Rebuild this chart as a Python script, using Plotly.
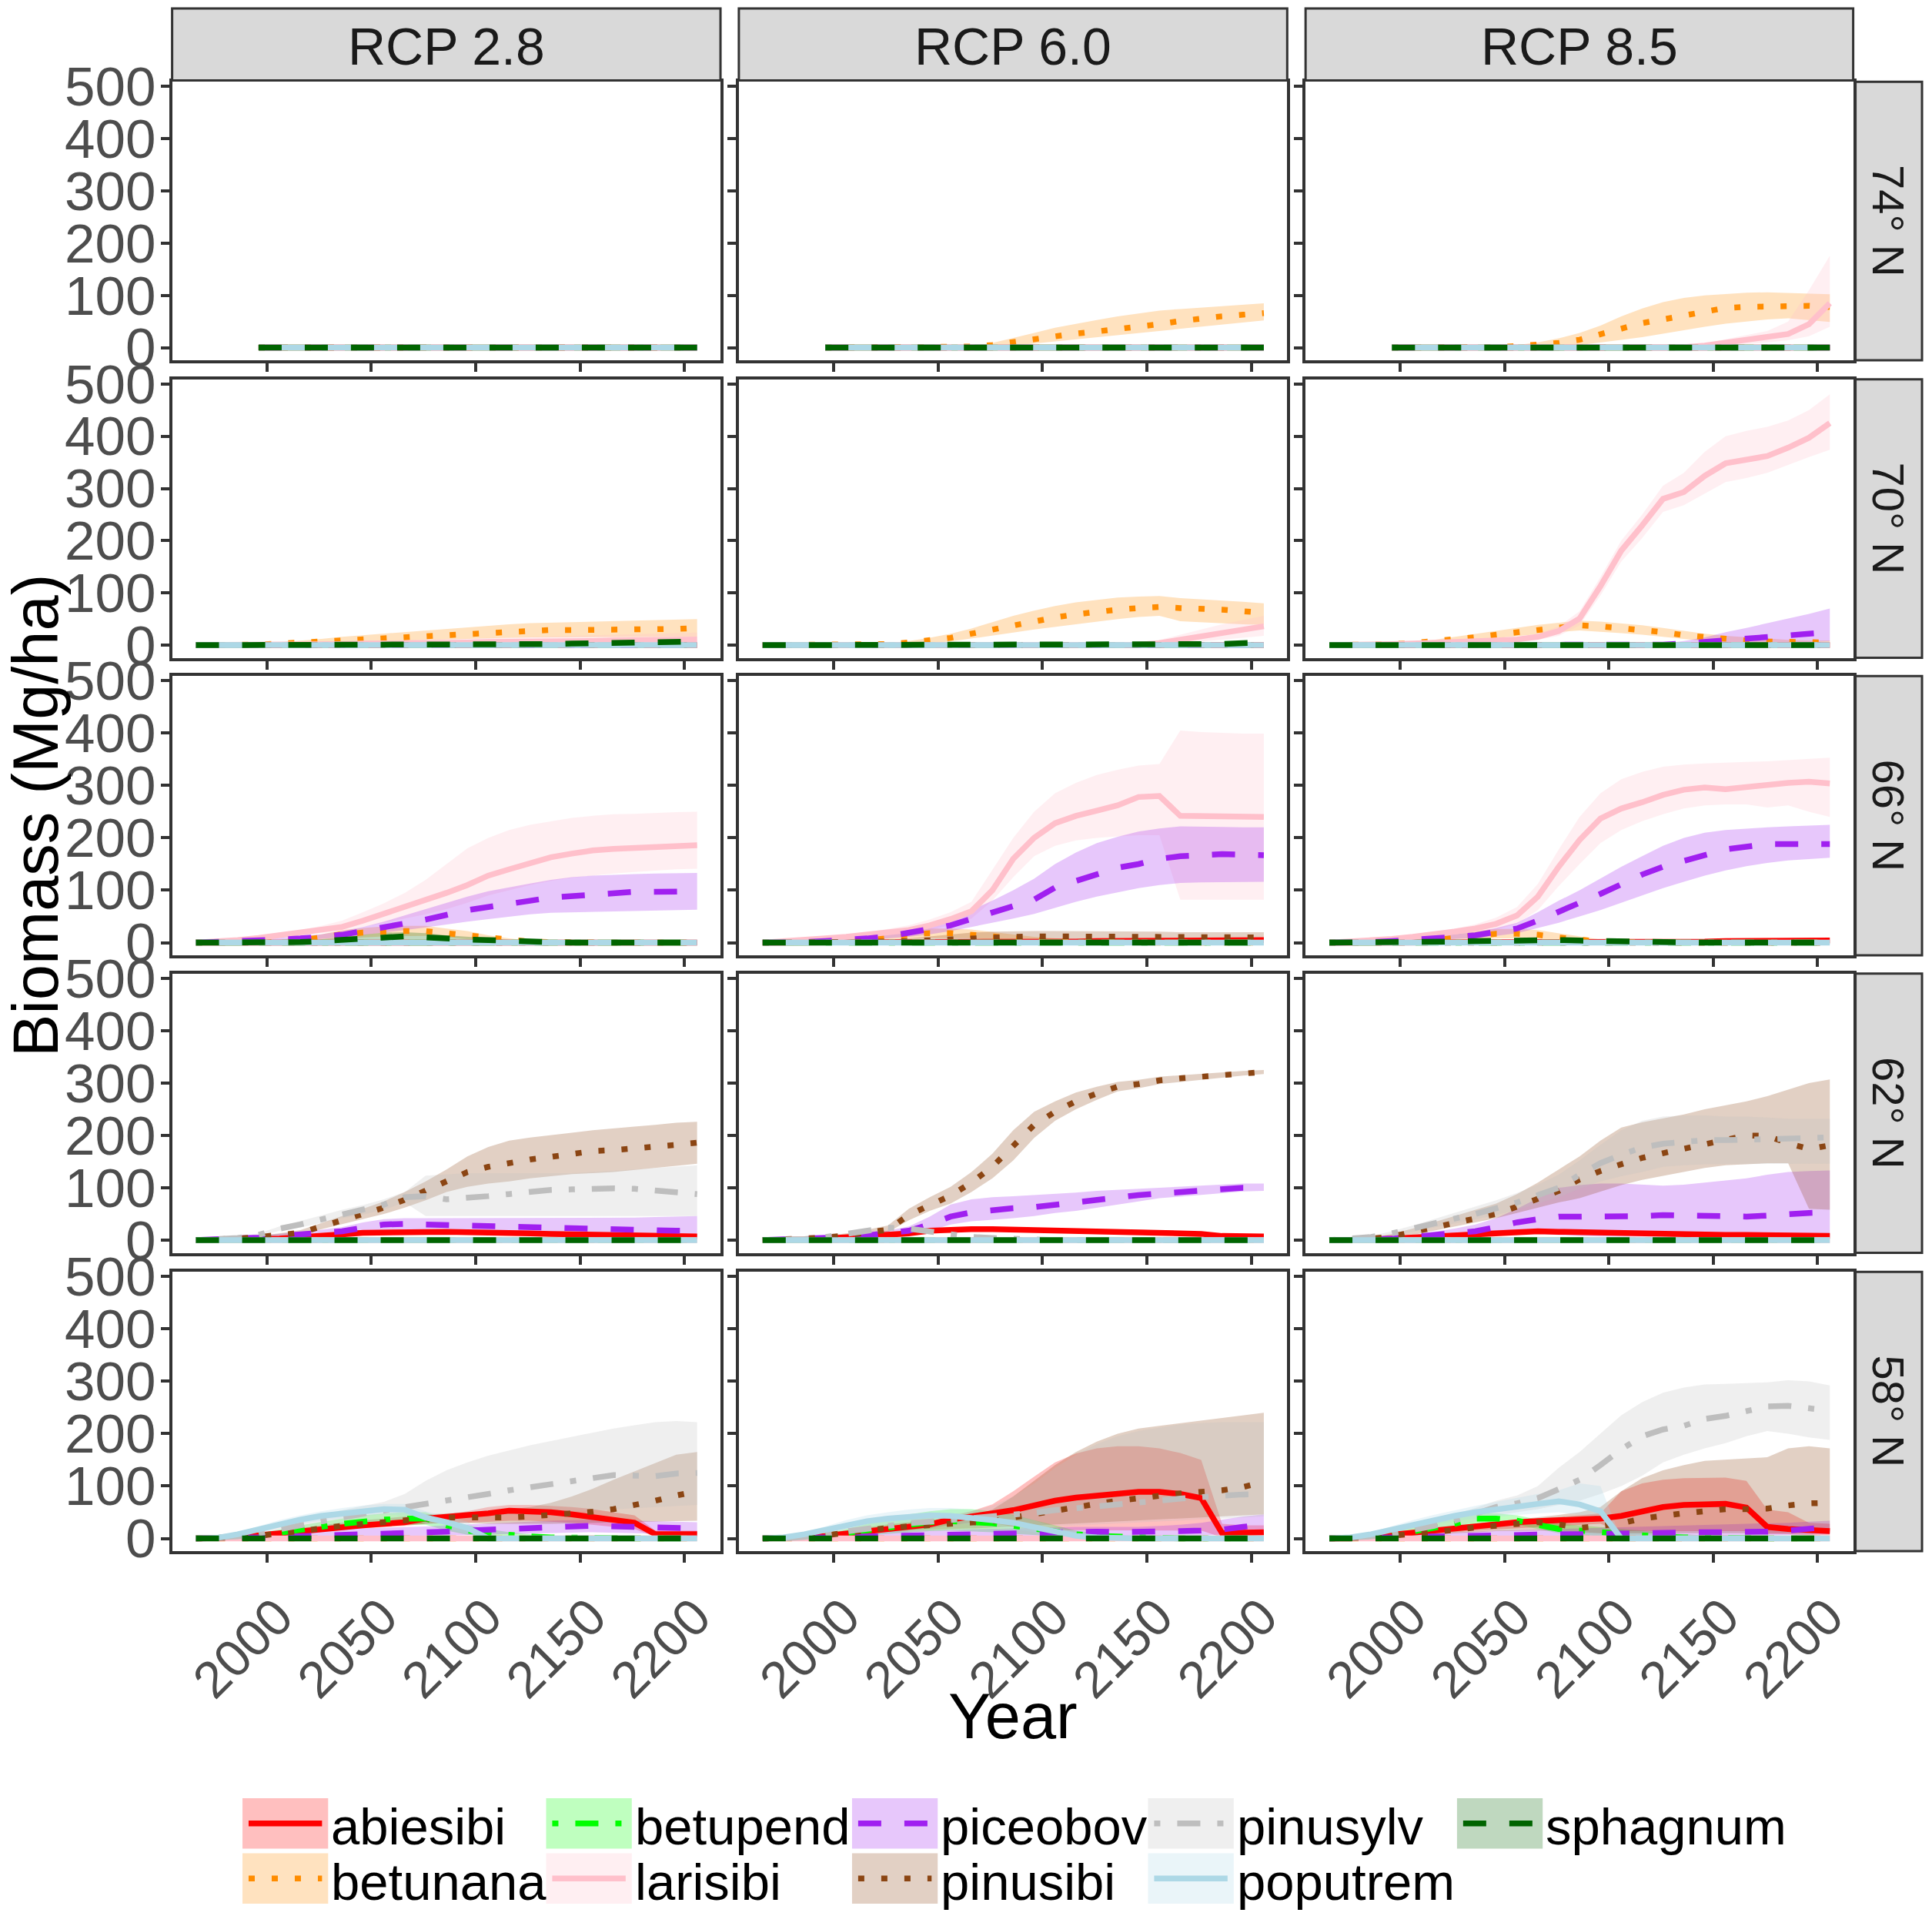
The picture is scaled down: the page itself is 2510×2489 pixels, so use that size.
import plotly.graph_objects as go

# sampled every 10 years; 74N runs only start in the late 1990s
years = [1966, 1976, 1986, 1996, 2006, 2016, 2026, 2036, 2046, 2056, 2066, 2076, 2086,
         2096, 2106, 2116, 2126, 2136, 2146, 2156, 2166, 2176, 2186, 2196, 2206]
years_74 = [1996, 2006, 2016, 2026, 2036, 2046, 2056, 2066, 2076, 2086, 2096,
            2106, 2116, 2126, 2136, 2146, 2156, 2166, 2176, 2186, 2196, 2206]
zero = [0, 0, 0, 0, 0, 0, 0, 0, 0, 0, 0, 0, 0, 0, 0, 0, 0, 0, 0, 0, 0, 0, 0, 0, 0]
zero_74 = [0, 0, 0, 0, 0, 0, 0, 0, 0, 0, 0, 0, 0, 0, 0, 0, 0, 0, 0, 0, 0, 0]

species = ["abiesibi", "betunana", "betupend", "larisibi", "piceobov",
           "pinusibi", "pinusylv", "poputrem", "sphagnum"]
rcps = ["RCP 2.8", "RCP 6.0", "RCP 8.5"]
lats = ["74° N", "70° N", "66° N", "62° N", "58° N"]

# ---- 74 N ----
betunana_74_60 = [0, 0, 0, 0, 0, 1, 1, 2, 5, 11, 17, 22, 27, 31, 35, 40, 45, 51, 56, 60, 63, 66]
betunana_74_60_lo = [0, 0, 0, 0, 0, 0, 0, 0, 1, 4, 8, 12, 16, 20, 24, 28, 31, 35, 39, 43, 48, 52]
betunana_74_60_hi = [0, 0, 0, 0, 0, 1, 2, 3, 9, 18, 28, 38, 46, 53, 60, 66, 71, 74, 77, 79, 82, 85]
betunana_74_85 = [0, 0, 0, 0, 0, 1, 3, 5, 9, 15, 25, 37, 47, 54, 61, 69, 76, 78, 79, 80, 80, 78]
betunana_74_85_lo = [0, 0, 0, 0, 0, 0, 1, 2, 3, 5, 10, 15, 20, 26, 33, 40, 46, 50, 54, 56, 52, 49]
betunana_74_85_hi = [0, 0, 0, 0, 0, 2, 5, 10, 18, 28, 42, 60, 75, 87, 95, 100, 103, 105, 106, 105, 103, 102]
larisibi_74_85 = [0, 0, 0, 0, 0, 0, 0, 0, 0, 0, 0, 0, 0, 0, 1, 4, 9, 14, 20, 26, 45, 85]
larisibi_74_85_lo = [0, 0, 0, 0, 0, 0, 0, 0, 0, 0, 0, 0, 0, 0, 0, 1, 3, 6, 10, 14, 22, 40]
larisibi_74_85_hi = [0, 0, 0, 0, 0, 0, 0, 0, 0, 0, 0, 0, 0, 1, 3, 8, 16, 24, 32, 50, 110, 176]

# ---- 70 N ----
betunana_70_28 = [0, 0, 0, 1, 3, 5, 8, 11, 13, 15, 17, 19, 21, 23, 25, 27, 28, 29, 29, 29, 29, 29, 30, 31, 33]
betunana_70_28_lo = [0, 0, 0, 0, 1, 2, 4, 6, 7, 8, 9, 10, 11, 12, 13, 14, 15, 16, 16, 16, 16, 16, 16, 16, 16]
betunana_70_28_hi = [0, 0, 0, 2, 5, 8, 12, 16, 19, 22, 25, 28, 31, 35, 38, 40, 42, 43, 44, 45, 46, 47, 48, 49, 50]
larisibi_70_28 = [0, 0, 0, 0, 1, 1, 2, 2, 3, 3, 4, 4, 5, 5, 6, 6, 7, 7, 8, 8, 9, 9, 10, 10, 11]
larisibi_70_28_hi = [0, 0, 1, 2, 3, 4, 5, 6, 7, 8, 9, 10, 11, 12, 13, 14, 15, 16, 17, 18, 19, 20, 21, 22, 24]
sphagnum_70_28 = [0, 0, 0, 0, 0, 0, 0, 0, 0, 0, 0, 0, 0, 0, 0, 0, 0, 2, 3, 4, 5, 5, 6, 6, 7]

betunana_70_60 = [0, 0, 0, 0, 0, 1, 2, 5, 9, 14, 22, 30, 38, 46, 53, 59, 64, 68, 71, 73, 71, 70, 68, 65, 62]
betunana_70_60_lo = [0, 0, 0, 0, 0, 0, 1, 2, 4, 7, 12, 18, 24, 30, 36, 40, 45, 50, 54, 56, 46, 44, 42, 40, 39]
betunana_70_60_hi = [0, 0, 0, 0, 0, 2, 4, 8, 14, 22, 32, 44, 56, 66, 75, 82, 87, 91, 93, 94, 90, 88, 86, 83, 80]
larisibi_70_60 = [0, 0, 0, 0, 0, 0, 0, 0, 0, 0, 0, 0, 0, 0, 0, 0, 0, 0, 1, 4, 10, 17, 24, 30, 36]
larisibi_70_60_lo = [0, 0, 0, 0, 0, 0, 0, 0, 0, 0, 0, 0, 0, 0, 0, 0, 0, 0, 0, 1, 3, 6, 10, 14, 18]
larisibi_70_60_hi = [0, 0, 0, 0, 0, 0, 0, 0, 0, 0, 0, 0, 0, 0, 0, 0, 0, 0, 3, 10, 20, 30, 40, 48, 56]
sphagnum_70_60 = [0, 0, 0, 0, 0, 0, 0, 0, 0, 0, 0, 0, 0, 0, 0, 0, 0, 0, 0, 0, 0, 0, 2, 4, 5]

larisibi_70_85 = [0, 0, 1, 2, 3, 4, 6, 7, 9, 11, 16, 27, 51, 113, 181, 229, 280, 293, 324, 348, 356, 362, 378, 397, 425]
larisibi_70_85_lo = [0, 0, 0, 1, 2, 3, 4, 5, 6, 7, 10, 18, 38, 95, 160, 205, 255, 268, 290, 312, 320, 330, 345, 360, 374]
larisibi_70_85_hi = [0, 0, 2, 3, 5, 6, 8, 9, 12, 15, 22, 36, 65, 130, 200, 250, 305, 330, 370, 400, 410, 418, 430, 450, 480]
betunana_70_85 = [0, 0, 1, 2, 4, 7, 11, 15, 20, 25, 30, 34, 38, 36, 33, 29, 25, 19, 15, 11, 9, 7, 6, 5, 5]
betunana_70_85_lo = [0, 0, 0, 1, 2, 4, 6, 9, 13, 17, 21, 25, 28, 26, 23, 20, 17, 12, 8, 5, 4, 3, 2, 2, 2]
betunana_70_85_hi = [0, 0, 2, 4, 6, 10, 16, 21, 27, 33, 39, 43, 47, 45, 42, 38, 33, 27, 22, 18, 15, 12, 10, 9, 9]
piceobov_70_85 = [0, 0, 0, 0, 0, 0, 0, 0, 0, 0, 0, 0, 0, 0, 0, 0, 1, 3, 6, 10, 13, 16, 19, 22, 25]
piceobov_70_85_lo = [0, 0, 0, 0, 0, 0, 0, 0, 0, 0, 0, 0, 0, 0, 0, 0, 0, 0, 1, 2, 3, 4, 5, 6, 7]
piceobov_70_85_hi = [0, 0, 0, 0, 0, 0, 0, 0, 0, 0, 0, 0, 0, 0, 0, 0, 3, 8, 15, 25, 33, 42, 50, 60, 70]

# ---- 66 N ----
larisibi_66_28 = [0, 2, 5, 9, 14, 18, 24, 30, 42, 55, 68, 80, 95, 110, 128, 140, 152, 163, 170, 176, 179, 181, 183, 185, 186]
larisibi_66_28_lo = [0, 1, 3, 6, 10, 13, 18, 22, 30, 38, 46, 54, 64, 76, 90, 100, 110, 118, 124, 128, 132, 135, 138, 140, 141]
larisibi_66_28_hi = [0, 3, 7, 12, 18, 24, 32, 42, 58, 75, 95, 120, 150, 180, 200, 215, 225, 232, 238, 242, 245, 246, 248, 249, 250]
piceobov_66_28 = [0, 1, 2, 4, 6, 8, 11, 15, 22, 29, 37, 44, 53, 62, 68, 73, 80, 86, 89, 92, 95, 97, 97, 98, 98]
piceobov_66_28_lo = [0, 0, 1, 2, 3, 5, 7, 10, 14, 19, 24, 29, 34, 40, 45, 50, 54, 57, 58, 59, 60, 61, 62, 62, 63]
piceobov_66_28_hi = [0, 1, 3, 6, 9, 12, 16, 22, 30, 40, 52, 64, 76, 88, 98, 106, 113, 120, 125, 128, 130, 131, 132, 133, 133]
betunana_66_28 = [0, 0, 0, 1, 3, 5, 10, 16, 19, 21, 22, 22, 18, 14, 8, 4, 2, 1, 0, 0, 0, 0, 0, 0, 0]
betunana_66_28_lo = [0, 0, 0, 0, 1, 2, 4, 8, 10, 12, 13, 13, 10, 7, 3, 1, 0, 0, 0, 0, 0, 0, 0, 0, 0]
betunana_66_28_hi = [0, 0, 0, 2, 5, 9, 16, 24, 28, 31, 32, 32, 27, 22, 14, 8, 4, 2, 1, 0, 0, 0, 0, 0, 0]
sphagnum_66_28 = [0, 0, 0, 0, 0, 1, 3, 5, 8, 11, 12, 10, 7, 6, 5, 3, 2, 1, 0, 0, 0, 0, 0, 0, 0]
sphagnum_66_28_lo = [0, 0, 0, 0, 0, 0, 1, 2, 3, 5, 6, 5, 3, 2, 1, 0, 0, 0, 0, 0, 0, 0, 0, 0, 0]
sphagnum_66_28_hi = [0, 0, 0, 0, 1, 3, 6, 10, 15, 19, 20, 18, 14, 11, 8, 5, 3, 2, 1, 0, 0, 0, 0, 0, 0]

larisibi_66_60 = [0, 2, 4, 8, 11, 15, 19, 24, 33, 45, 60, 100, 160, 200, 228, 242, 252, 262, 278, 280, 242, 241, 241, 240, 240]
larisibi_66_60_lo = [0, 1, 2, 5, 7, 10, 13, 17, 24, 34, 46, 80, 125, 165, 185, 195, 200, 203, 205, 205, 82, 82, 82, 82, 82]
larisibi_66_60_hi = [0, 3, 6, 11, 15, 20, 26, 33, 44, 58, 78, 140, 200, 250, 285, 305, 320, 330, 338, 341, 405, 402, 400, 399, 399]
piceobov_66_60 = [0, 0, 1, 3, 5, 8, 12, 18, 26, 33, 45, 56, 68, 82, 105, 118, 130, 143, 150, 160, 165, 168, 169, 168, 167]
piceobov_66_60_lo = [0, 0, 0, 1, 3, 5, 8, 11, 16, 22, 30, 38, 46, 55, 66, 78, 88, 96, 104, 110, 114, 115, 116, 116, 116]
piceobov_66_60_hi = [0, 1, 2, 5, 8, 12, 18, 26, 36, 46, 62, 80, 100, 122, 150, 172, 190, 202, 212, 218, 222, 222, 221, 220, 220]
betunana_66_60 = [0, 0, 0, 1, 3, 6, 10, 15, 18, 18, 16, 12, 8, 5, 3, 2, 1, 0, 0, 0, 0, 0, 0, 0, 0]
betunana_66_60_lo = [0, 0, 0, 0, 1, 2, 4, 7, 9, 9, 8, 6, 3, 1, 0, 0, 0, 0, 0, 0, 0, 0, 0, 0, 0]
betunana_66_60_hi = [0, 0, 0, 3, 7, 12, 18, 24, 27, 27, 25, 20, 15, 11, 8, 5, 3, 1, 0, 0, 0, 0, 0, 0, 0]
pinusibi_66_60 = [0, 0, 0, 0, 0, 1, 2, 3, 5, 7, 9, 10, 11, 12, 12, 12, 12, 12, 11, 11, 10, 10, 10, 10, 10]
pinusibi_66_60_lo = [0, 0, 0, 0, 0, 0, 0, 1, 2, 3, 4, 4, 4, 5, 5, 5, 5, 5, 4, 4, 4, 4, 4, 4, 4]
pinusibi_66_60_hi = [0, 0, 0, 0, 1, 3, 5, 8, 12, 16, 19, 21, 22, 22, 22, 22, 22, 22, 21, 21, 20, 20, 20, 20, 20]
abiesibi_66_60 = [0, 0, 0, 0, 0, 0, 0, 0, 0, 0, 0, 0, 0, 0, 1, 2, 3, 3, 4, 4, 5, 5, 5, 5, 5]

larisibi_66_85 = [0, 2, 4, 7, 11, 15, 21, 27, 36, 52, 88, 145, 196, 237, 256, 268, 282, 292, 296, 293, 297, 302, 305, 307, 304]
larisibi_66_85_lo = [0, 1, 2, 4, 7, 10, 15, 19, 25, 36, 62, 108, 150, 190, 215, 232, 245, 256, 262, 264, 264, 258, 262, 250, 240]
larisibi_66_85_hi = [0, 3, 6, 10, 15, 20, 27, 35, 48, 68, 112, 178, 240, 285, 312, 326, 336, 340, 342, 344, 345, 346, 348, 350, 353]
piceobov_66_85 = [0, 0, 1, 3, 5, 8, 11, 14, 20, 27, 42, 58, 76, 93, 113, 130, 145, 157, 167, 178, 183, 188, 188, 187, 188]
piceobov_66_85_lo = [0, 0, 0, 1, 3, 5, 7, 9, 13, 18, 28, 38, 50, 62, 76, 90, 104, 116, 128, 138, 146, 152, 157, 160, 162]
piceobov_66_85_hi = [0, 1, 2, 5, 8, 12, 16, 20, 28, 38, 58, 80, 100, 122, 145, 165, 185, 200, 210, 215, 218, 220, 222, 224, 225]
betunana_66_85 = [0, 0, 0, 1, 2, 5, 9, 14, 17, 17, 15, 10, 5, 2, 1, 0, 0, 0, 0, 0, 0, 0, 0, 0, 0]
betunana_66_85_lo = [0, 0, 0, 0, 0, 1, 3, 6, 8, 8, 7, 4, 1, 0, 0, 0, 0, 0, 0, 0, 0, 0, 0, 0, 0]
betunana_66_85_hi = [0, 0, 0, 3, 6, 11, 17, 23, 26, 26, 24, 18, 11, 6, 3, 1, 0, 0, 0, 0, 0, 0, 0, 0, 0]
sphagnum_66_85 = [0, 0, 0, 0, 0, 1, 2, 3, 4, 5, 6, 5, 4, 3, 2, 1, 0, 0, 0, 0, 0, 0, 0, 0, 0]
abiesibi_66_85 = [0, 0, 0, 0, 0, 0, 0, 0, 0, 0, 0, 0, 0, 0, 0, 0, 0, 1, 2, 3, 3, 4, 4, 4, 4]

# ---- 62 N ----
pinusibi_62_28 = [0, 1, 3, 6, 10, 14, 26, 38, 50, 62, 77, 94, 113, 130, 140, 148, 154, 159, 165, 170, 172, 175, 177, 182, 186]
pinusibi_62_28_lo = [0, 1, 2, 5, 8, 11, 20, 30, 40, 50, 62, 76, 92, 102, 108, 112, 118, 122, 126, 128, 130, 134, 138, 142, 146]
pinusibi_62_28_hi = [0, 1, 4, 8, 13, 19, 32, 46, 60, 74, 92, 112, 135, 160, 178, 190, 196, 200, 205, 210, 214, 217, 220, 224, 226]
pinusylv_62_28 = [0, 1, 4, 10, 22, 30, 40, 50, 58, 68, 82, 84, 78, 80, 84, 88, 92, 96, 97, 99, 99, 98, 95, 92, 88]
pinusylv_62_28_lo = [0, 0, 2, 7, 18, 24, 33, 42, 49, 58, 72, 46, 46, 46, 46, 46, 46, 46, 46, 46, 46, 46, 46, 46, 46]
pinusylv_62_28_hi = [0, 2, 6, 13, 26, 36, 47, 58, 67, 78, 92, 123, 126, 128, 128, 128, 128, 128, 128, 130, 132, 135, 138, 141, 143]
piceobov_62_28 = [0, 1, 2, 5, 8, 10, 14, 17, 24, 30, 31, 30, 29, 28, 27, 25, 24, 23, 22, 21, 19, 19, 18, 18, 18]
piceobov_62_28_lo = [0, 0, 1, 2, 4, 6, 9, 11, 15, 19, 19, 18, 17, 16, 14, 13, 12, 11, 10, 9, 9, 8, 8, 8, 8]
piceobov_62_28_hi = [0, 2, 4, 8, 12, 15, 20, 25, 34, 40, 42, 42, 42, 42, 42, 42, 42, 42, 42, 42, 43, 43, 44, 45, 46]
abiesibi_62_28 = [0, 0, 1, 2, 3, 5, 8, 11, 14, 15, 16, 16, 16, 15, 15, 14, 13, 12, 11, 10, 9, 8, 8, 7, 7]
abiesibi_62_28_lo = [0, 0, 0, 0, 1, 2, 4, 7, 10, 11, 12, 12, 12, 11, 11, 10, 9, 8, 7, 6, 5, 4, 4, 3, 3]
abiesibi_62_28_hi = [0, 1, 3, 5, 7, 9, 12, 15, 18, 19, 20, 20, 20, 19, 19, 18, 17, 16, 15, 14, 13, 12, 12, 11, 11]

pinusibi_62_60 = [0, 1, 3, 5, 9, 14, 20, 48, 68, 85, 110, 140, 180, 220, 245, 265, 280, 293, 298, 305, 309, 312, 315, 319, 321]
pinusibi_62_60_lo = [0, 0, 1, 3, 6, 10, 15, 38, 56, 70, 92, 118, 152, 195, 228, 250, 268, 284, 290, 298, 303, 306, 310, 314, 317]
pinusibi_62_60_hi = [0, 2, 5, 8, 13, 20, 28, 60, 82, 102, 130, 165, 210, 245, 265, 282, 293, 302, 306, 312, 315, 318, 320, 323, 325]
piceobov_62_60 = [0, 1, 2, 4, 6, 9, 13, 18, 30, 45, 53, 58, 61, 63, 68, 72, 77, 82, 86, 89, 92, 94, 97, 100, 100]
piceobov_62_60_lo = [0, 0, 1, 2, 3, 5, 8, 11, 18, 30, 36, 39, 42, 46, 52, 56, 62, 68, 74, 80, 84, 86, 90, 93, 94]
piceobov_62_60_hi = [0, 1, 3, 6, 9, 13, 18, 26, 45, 68, 78, 82, 84, 86, 88, 91, 94, 96, 98, 100, 102, 104, 106, 108, 108]
abiesibi_62_60 = [0, 0, 1, 3, 5, 7, 10, 13, 18, 20, 21, 21, 20, 19, 18, 18, 17, 16, 16, 15, 14, 12, 8, 7, 7]
abiesibi_62_60_lo = [0, 0, 0, 1, 2, 3, 6, 9, 14, 16, 17, 17, 16, 15, 14, 14, 13, 12, 12, 11, 10, 8, 4, 3, 3]
abiesibi_62_60_hi = [0, 1, 3, 6, 9, 11, 14, 17, 22, 24, 25, 25, 24, 23, 22, 22, 21, 20, 20, 19, 18, 16, 12, 11, 11]
pinusylv_62_60 = [0, 0, 2, 6, 12, 20, 24, 22, 16, 10, 6, 4, 2, 1, 0, 0, 0, 0, 0, 0, 0, 0, 0, 0, 0]

pinusylv_62_85 = [0, 2, 6, 13, 23, 32, 41, 50, 60, 72, 86, 100, 125, 147, 163, 177, 184, 188, 191, 191, 192, 195, 196, 196, 196]
pinusylv_62_85_lo = [0, 1, 3, 8, 16, 24, 32, 40, 48, 58, 70, 82, 98, 112, 122, 130, 140, 143, 145, 146, 146, 146, 146, 146, 146]
pinusylv_62_85_hi = [0, 3, 8, 17, 28, 40, 52, 64, 76, 90, 106, 125, 152, 182, 210, 228, 236, 238, 238, 236, 236, 234, 232, 232, 232]
pinusibi_62_85 = [0, 1, 3, 7, 16, 25, 34, 42, 50, 64, 80, 94, 116, 132, 145, 157, 166, 174, 182, 192, 200, 199, 185, 174, 181]
pinusibi_62_85_lo = [0, 0, 2, 5, 10, 18, 26, 34, 42, 52, 62, 72, 80, 92, 105, 115, 123, 130, 138, 143, 145, 147, 147, 60, 58]
pinusibi_62_85_hi = [0, 1, 5, 12, 22, 34, 46, 58, 70, 88, 110, 135, 160, 190, 215, 225, 232, 240, 250, 258, 265, 275, 287, 300, 307]
piceobov_62_85 = [0, 0, 1, 3, 6, 10, 13, 17, 25, 34, 40, 45, 45, 45, 45, 46, 48, 47, 45, 45, 45, 47, 50, 52, 53]
piceobov_62_85_lo = [0, 0, 0, 1, 2, 4, 6, 8, 10, 12, 12, 10, 8, 7, 6, 6, 6, 6, 6, 6, 6, 6, 6, 6, 6]
piceobov_62_85_hi = [0, 1, 3, 6, 10, 16, 22, 30, 42, 60, 80, 100, 105, 108, 108, 106, 104, 106, 110, 113, 118, 125, 130, 132, 133]
abiesibi_62_85 = [0, 0, 1, 3, 5, 8, 11, 13, 15, 17, 17, 16, 15, 14, 14, 13, 12, 12, 11, 10, 10, 9, 9, 8, 8]
abiesibi_62_85_lo = [0, 0, 0, 1, 2, 4, 7, 9, 11, 13, 13, 12, 11, 10, 10, 9, 8, 8, 7, 6, 6, 5, 5, 4, 4]
abiesibi_62_85_hi = [0, 1, 3, 6, 9, 12, 15, 17, 19, 21, 21, 20, 19, 18, 18, 17, 16, 16, 15, 14, 14, 13, 13, 12, 12]

# ---- 58 N ----
poputrem_58_28 = [0, 1, 8, 17, 28, 36, 43, 48, 53, 56, 55, 40, 31, 20, 0, 0, 0, 0, 0, 0, 0, 0, 0, 0, 0]
poputrem_58_28_lo = [0, 0, 4, 11, 21, 28, 34, 38, 43, 46, 44, 28, 20, 8, 0, 0, 0, 0, 0, 0, 0, 0, 0, 0, 0]
poputrem_58_28_hi = [0, 3, 12, 23, 35, 44, 52, 58, 63, 66, 66, 52, 42, 32, 0, 0, 0, 0, 0, 0, 0, 0, 0, 0, 0]
pinusylv_58_28 = [0, 1, 4, 10, 18, 26, 33, 40, 47, 53, 60, 67, 73, 77, 85, 92, 98, 104, 110, 116, 121, 120, 119, 124, 125]
pinusylv_58_28_lo = [0, 0, 1, 4, 9, 15, 20, 24, 28, 32, 35, 38, 40, 42, 44, 46, 48, 50, 52, 54, 56, 58, 60, 62, 64]
pinusylv_58_28_hi = [0, 2, 8, 16, 26, 36, 45, 54, 62, 70, 85, 110, 130, 145, 158, 168, 178, 186, 194, 202, 210, 216, 222, 224, 222]
pinusibi_58_28 = [0, 0, 2, 5, 9, 14, 19, 24, 28, 31, 34, 38, 40, 40, 39, 40, 42, 45, 47, 51, 56, 63, 72, 82, 90]
pinusibi_58_28_lo = [0, 0, 1, 2, 5, 9, 13, 18, 21, 24, 26, 28, 30, 30, 28, 28, 28, 28, 28, 29, 30, 31, 32, 33, 34]
pinusibi_58_28_hi = [0, 0, 3, 8, 13, 19, 25, 30, 35, 38, 42, 46, 48, 50, 52, 55, 60, 68, 80, 95, 112, 128, 145, 160, 165]
abiesibi_58_28 = [0, 0, 2, 6, 10, 14, 19, 22, 25, 28, 31, 38, 41, 43, 48, 53, 52, 50, 46, 40, 35, 30, 8, 8, 8]
abiesibi_58_28_lo = [0, 0, 1, 3, 6, 10, 14, 17, 19, 22, 24, 28, 30, 30, 32, 34, 34, 32, 30, 26, 22, 18, 3, 2, 2]
abiesibi_58_28_hi = [0, 0, 3, 8, 13, 18, 23, 27, 30, 33, 36, 42, 46, 52, 60, 64, 64, 62, 60, 56, 50, 44, 15, 15, 15]
betupend_58_28 = [0, 0, 2, 5, 10, 16, 22, 28, 33, 36, 38, 38, 25, 15, 10, 6, 4, 2, 1, 0, 0, 0, 0, 0, 0]
betupend_58_28_lo = [0, 0, 0, 2, 5, 9, 14, 19, 23, 25, 26, 26, 15, 7, 4, 2, 1, 0, 0, 0, 0, 0, 0, 0, 0]
betupend_58_28_hi = [0, 0, 4, 10, 17, 25, 32, 38, 44, 48, 50, 50, 36, 25, 18, 12, 8, 5, 3, 1, 0, 0, 0, 0, 0]
piceobov_58_28 = [0, 0, 1, 2, 3, 4, 5, 6, 7, 8, 9, 11, 13, 15, 17, 19, 21, 22, 23, 24, 23, 22, 20, 19, 19]
piceobov_58_28_lo = [0, 0, 0, 0, 0, 0, 0, 1, 2, 2, 3, 4, 5, 6, 7, 8, 9, 10, 11, 12, 11, 10, 9, 8, 8]
piceobov_58_28_hi = [0, 1, 4, 8, 12, 15, 17, 18, 19, 20, 21, 23, 25, 27, 29, 31, 33, 34, 35, 36, 35, 34, 32, 31, 31]

poputrem_58_60 = [0, 2, 8, 16, 26, 33, 38, 42, 44, 43, 40, 35, 30, 22, 12, 5, 2, 0, 0, 0, 0, 0, 0, 0, 0]
poputrem_58_60_lo = [0, 1, 4, 10, 18, 24, 28, 31, 32, 30, 27, 22, 18, 12, 5, 1, 0, 0, 0, 0, 0, 0, 0, 0, 0]
poputrem_58_60_hi = [0, 4, 13, 23, 35, 44, 50, 55, 58, 58, 55, 50, 44, 35, 22, 12, 5, 1, 0, 0, 0, 0, 0, 0, 0]
pinusylv_58_60 = [0, 0, 3, 8, 14, 20, 25, 29, 32, 35, 38, 41, 44, 49, 54, 58, 62, 66, 70, 73, 76, 79, 82, 84, 85]
pinusylv_58_60_lo = [0, 0, 1, 3, 6, 9, 12, 14, 15, 16, 17, 18, 19, 20, 22, 24, 26, 28, 30, 32, 34, 36, 38, 40, 42]
pinusylv_58_60_hi = [0, 0, 5, 12, 20, 28, 34, 38, 42, 46, 52, 62, 80, 105, 135, 160, 180, 195, 205, 212, 218, 220, 222, 222, 222]
pinusibi_58_60 = [0, 0, 2, 6, 11, 16, 20, 23, 25, 27, 29, 33, 40, 47, 54, 60, 66, 72, 77, 82, 86, 89, 92, 98, 108]
pinusibi_58_60_lo = [0, 0, 1, 3, 6, 10, 13, 15, 17, 18, 19, 20, 22, 24, 26, 28, 30, 32, 34, 36, 38, 40, 42, 44, 46]
pinusibi_58_60_hi = [0, 0, 4, 10, 16, 22, 27, 31, 34, 37, 42, 55, 80, 110, 140, 165, 185, 200, 210, 215, 220, 226, 230, 235, 240]
abiesibi_58_60 = [0, 0, 2, 5, 9, 14, 18, 22, 27, 36, 43, 48, 54, 63, 72, 78, 82, 87, 89, 89, 85, 77, 10, 11, 12]
abiesibi_58_60_lo = [0, 0, 1, 3, 6, 10, 13, 16, 19, 26, 30, 30, 22, 18, 16, 15, 15, 15, 15, 15, 15, 15, 2, 2, 2]
abiesibi_58_60_hi = [0, 0, 3, 7, 12, 17, 22, 26, 31, 42, 52, 65, 90, 118, 145, 162, 172, 176, 176, 172, 163, 150, 28, 25, 25]
betupend_58_60 = [0, 0, 2, 5, 10, 16, 22, 27, 31, 33, 32, 29, 24, 18, 12, 8, 5, 3, 2, 1, 0, 0, 0, 0, 0]
betupend_58_60_lo = [0, 0, 0, 1, 3, 6, 9, 12, 14, 15, 14, 12, 9, 6, 4, 2, 1, 0, 0, 0, 0, 0, 0, 0, 0]
betupend_58_60_hi = [0, 0, 4, 10, 18, 28, 38, 46, 52, 56, 56, 52, 45, 35, 25, 15, 10, 6, 4, 2, 1, 0, 0, 0, 0]
piceobov_58_60 = [0, 0, 1, 2, 3, 4, 5, 6, 7, 8, 9, 10, 11, 12, 12, 13, 13, 12, 12, 13, 14, 15, 17, 22, 27]
piceobov_58_60_lo = [0, 0, 0, 0, 0, 0, 1, 1, 2, 2, 3, 3, 4, 4, 4, 5, 5, 5, 5, 5, 6, 6, 7, 9, 12]
piceobov_58_60_hi = [0, 1, 4, 7, 10, 12, 14, 15, 16, 17, 18, 19, 20, 21, 21, 22, 22, 22, 22, 24, 26, 30, 36, 42, 46]

pinusylv_58_85 = [0, 1, 4, 9, 16, 24, 34, 46, 60, 67, 77, 94, 112, 140, 170, 195, 208, 215, 228, 234, 242, 252, 253, 249, 244]
pinusylv_58_85_lo = [0, 0, 1, 4, 8, 14, 22, 32, 44, 50, 56, 64, 72, 85, 100, 120, 145, 160, 172, 182, 195, 205, 200, 193, 188]
pinusylv_58_85_hi = [0, 2, 7, 14, 24, 34, 46, 58, 72, 82, 100, 135, 165, 200, 235, 260, 278, 288, 294, 295, 296, 298, 302, 300, 292]
pinusibi_58_85 = [0, 0, 2, 5, 8, 12, 16, 21, 25, 28, 31, 27, 20, 24, 29, 38, 44, 48, 52, 56, 56, 57, 63, 67, 68]
pinusibi_58_85_lo = [0, 0, 1, 3, 5, 8, 10, 12, 14, 15, 15, 15, 12, 10, 10, 10, 10, 10, 10, 10, 10, 10, 10, 10, 10]
pinusibi_58_85_hi = [0, 0, 3, 8, 13, 18, 23, 28, 32, 36, 40, 45, 50, 60, 90, 115, 130, 140, 148, 150, 152, 155, 172, 176, 172]
abiesibi_58_85 = [0, 0, 3, 7, 11, 16, 20, 24, 28, 31, 33, 34, 36, 38, 43, 51, 60, 64, 66, 66, 59, 22, 18, 15, 14]
abiesibi_58_85_lo = [0, 0, 1, 3, 6, 9, 12, 15, 18, 20, 22, 24, 26, 28, 14, 14, 14, 14, 14, 14, 14, 8, 8, 6, 6]
abiesibi_58_85_hi = [0, 0, 4, 9, 14, 19, 24, 28, 32, 35, 38, 40, 44, 48, 90, 105, 112, 115, 116, 116, 110, 55, 50, 30, 28]
poputrem_58_85 = [0, 2, 8, 17, 27, 35, 43, 50, 56, 62, 66, 71, 65, 52, 0, 0, 0, 0, 0, 0, 0, 0, 0, 0, 0]
poputrem_58_85_lo = [0, 1, 5, 12, 20, 27, 33, 38, 42, 45, 48, 50, 45, 40, 0, 0, 0, 0, 0, 0, 0, 0, 0, 0, 0]
poputrem_58_85_hi = [0, 3, 12, 24, 35, 45, 54, 62, 70, 78, 85, 92, 105, 100, 0, 0, 0, 0, 0, 0, 0, 0, 0, 0, 0]
betupend_58_85 = [0, 0, 2, 6, 12, 20, 28, 38, 38, 34, 26, 18, 15, 12, 8, 5, 3, 2, 1, 0, 0, 0, 0, 0, 0]
betupend_58_85_lo = [0, 0, 0, 1, 4, 10, 18, 28, 29, 26, 18, 10, 7, 4, 1, 0, 0, 0, 0, 0, 0, 0, 0, 0, 0]
betupend_58_85_hi = [0, 0, 5, 14, 22, 30, 38, 48, 48, 44, 36, 28, 25, 22, 18, 15, 11, 8, 5, 2, 0, 0, 0, 0, 0]
piceobov_58_85 = [0, 0, 1, 2, 3, 4, 5, 6, 7, 7, 7, 8, 8, 9, 10, 11, 11, 11, 12, 12, 12, 13, 15, 19, 22]
piceobov_58_85_lo = [0, 0, 0, 0, 0, 0, 1, 1, 2, 2, 2, 3, 3, 3, 4, 4, 4, 4, 5, 5, 5, 5, 6, 7, 8]
piceobov_58_85_hi = [0, 1, 3, 6, 8, 10, 12, 14, 15, 16, 17, 18, 19, 20, 21, 22, 23, 24, 25, 26, 27, 28, 30, 32, 34]

# (mean, lower, upper) per panel; species not listed stay at zero
panels = {
    ("74° N", "RCP 2.8"): {},
    ("74° N", "RCP 6.0"): {
        "betunana": (betunana_74_60, betunana_74_60_lo, betunana_74_60_hi)},
    ("74° N", "RCP 8.5"): {
        "betunana": (betunana_74_85, betunana_74_85_lo, betunana_74_85_hi),
        "larisibi": (larisibi_74_85, larisibi_74_85_lo, larisibi_74_85_hi)},
    ("70° N", "RCP 2.8"): {
        "betunana": (betunana_70_28, betunana_70_28_lo, betunana_70_28_hi),
        "larisibi": (larisibi_70_28, zero, larisibi_70_28_hi),
        "sphagnum": (sphagnum_70_28, None, None)},
    ("70° N", "RCP 6.0"): {
        "betunana": (betunana_70_60, betunana_70_60_lo, betunana_70_60_hi),
        "larisibi": (larisibi_70_60, larisibi_70_60_lo, larisibi_70_60_hi),
        "sphagnum": (sphagnum_70_60, None, None)},
    ("70° N", "RCP 8.5"): {
        "betunana": (betunana_70_85, betunana_70_85_lo, betunana_70_85_hi),
        "larisibi": (larisibi_70_85, larisibi_70_85_lo, larisibi_70_85_hi),
        "piceobov": (piceobov_70_85, piceobov_70_85_lo, piceobov_70_85_hi)},
    ("66° N", "RCP 2.8"): {
        "betunana": (betunana_66_28, betunana_66_28_lo, betunana_66_28_hi),
        "larisibi": (larisibi_66_28, larisibi_66_28_lo, larisibi_66_28_hi),
        "piceobov": (piceobov_66_28, piceobov_66_28_lo, piceobov_66_28_hi),
        "sphagnum": (sphagnum_66_28, sphagnum_66_28_lo, sphagnum_66_28_hi)},
    ("66° N", "RCP 6.0"): {
        "abiesibi": (abiesibi_66_60, None, None),
        "betunana": (betunana_66_60, betunana_66_60_lo, betunana_66_60_hi),
        "larisibi": (larisibi_66_60, larisibi_66_60_lo, larisibi_66_60_hi),
        "piceobov": (piceobov_66_60, piceobov_66_60_lo, piceobov_66_60_hi),
        "pinusibi": (pinusibi_66_60, pinusibi_66_60_lo, pinusibi_66_60_hi)},
    ("66° N", "RCP 8.5"): {
        "abiesibi": (abiesibi_66_85, None, None),
        "betunana": (betunana_66_85, betunana_66_85_lo, betunana_66_85_hi),
        "larisibi": (larisibi_66_85, larisibi_66_85_lo, larisibi_66_85_hi),
        "piceobov": (piceobov_66_85, piceobov_66_85_lo, piceobov_66_85_hi),
        "sphagnum": (sphagnum_66_85, None, None)},
    ("62° N", "RCP 2.8"): {
        "abiesibi": (abiesibi_62_28, abiesibi_62_28_lo, abiesibi_62_28_hi),
        "piceobov": (piceobov_62_28, piceobov_62_28_lo, piceobov_62_28_hi),
        "pinusibi": (pinusibi_62_28, pinusibi_62_28_lo, pinusibi_62_28_hi),
        "pinusylv": (pinusylv_62_28, pinusylv_62_28_lo, pinusylv_62_28_hi)},
    ("62° N", "RCP 6.0"): {
        "abiesibi": (abiesibi_62_60, abiesibi_62_60_lo, abiesibi_62_60_hi),
        "piceobov": (piceobov_62_60, piceobov_62_60_lo, piceobov_62_60_hi),
        "pinusibi": (pinusibi_62_60, pinusibi_62_60_lo, pinusibi_62_60_hi),
        "pinusylv": (pinusylv_62_60, None, None)},
    ("62° N", "RCP 8.5"): {
        "abiesibi": (abiesibi_62_85, abiesibi_62_85_lo, abiesibi_62_85_hi),
        "piceobov": (piceobov_62_85, piceobov_62_85_lo, piceobov_62_85_hi),
        "pinusibi": (pinusibi_62_85, pinusibi_62_85_lo, pinusibi_62_85_hi),
        "pinusylv": (pinusylv_62_85, pinusylv_62_85_lo, pinusylv_62_85_hi)},
    ("58° N", "RCP 2.8"): {
        "abiesibi": (abiesibi_58_28, abiesibi_58_28_lo, abiesibi_58_28_hi),
        "betupend": (betupend_58_28, betupend_58_28_lo, betupend_58_28_hi),
        "piceobov": (piceobov_58_28, piceobov_58_28_lo, piceobov_58_28_hi),
        "pinusibi": (pinusibi_58_28, pinusibi_58_28_lo, pinusibi_58_28_hi),
        "pinusylv": (pinusylv_58_28, pinusylv_58_28_lo, pinusylv_58_28_hi),
        "poputrem": (poputrem_58_28, poputrem_58_28_lo, poputrem_58_28_hi)},
    ("58° N", "RCP 6.0"): {
        "abiesibi": (abiesibi_58_60, abiesibi_58_60_lo, abiesibi_58_60_hi),
        "betupend": (betupend_58_60, betupend_58_60_lo, betupend_58_60_hi),
        "piceobov": (piceobov_58_60, piceobov_58_60_lo, piceobov_58_60_hi),
        "pinusibi": (pinusibi_58_60, pinusibi_58_60_lo, pinusibi_58_60_hi),
        "pinusylv": (pinusylv_58_60, pinusylv_58_60_lo, pinusylv_58_60_hi),
        "poputrem": (poputrem_58_60, poputrem_58_60_lo, poputrem_58_60_hi)},
    ("58° N", "RCP 8.5"): {
        "abiesibi": (abiesibi_58_85, abiesibi_58_85_lo, abiesibi_58_85_hi),
        "betupend": (betupend_58_85, betupend_58_85_lo, betupend_58_85_hi),
        "piceobov": (piceobov_58_85, piceobov_58_85_lo, piceobov_58_85_hi),
        "pinusibi": (pinusibi_58_85, pinusibi_58_85_lo, pinusibi_58_85_hi),
        "pinusylv": (pinusylv_58_85, pinusylv_58_85_lo, pinusylv_58_85_hi),
        "poputrem": (poputrem_58_85, poputrem_58_85_lo, poputrem_58_85_hi)},
}

colors = {
    "abiesibi": "#FF0000", "betunana": "#FF8C00", "betupend": "#00FF00",
    "larisibi": "#FFC0CB", "piceobov": "#A020F0", "pinusibi": "#8B4513",
    "pinusylv": "#BEBEBE", "poputrem": "#ADD8E6", "sphagnum": "#006400",
}
dashes = {
    "abiesibi": "solid", "betunana": "8px,22px", "betupend": "8px,22px,30px,22px",
    "larisibi": "solid", "piceobov": "30px,30px", "pinusibi": "8px,22px",
    "pinusylv": "8px,22px,30px,22px", "poputrem": "solid", "sphagnum": "30px,30px",
}


def fade(hex_color, a=0.25):
    h = hex_color.lstrip("#")
    return f"rgba({int(h[0:2], 16)},{int(h[2:4], 16)},{int(h[4:6], 16)},{a})"


# layout measured on a 2510 x 2489 canvas
W, H = 2510, 2489
FONT = "Liberation Sans, Arial, sans-serif"
col_px = [(217, 934), (958, 1675), (1699, 2415)]
row_px = [(99, 463), (488, 852), (876, 1241), (1265, 1630), (1655, 2020)]


def fx(p):
    return p / W


def fy(p):
    return 1 - p / H


def label(text, x, y, size, color="black", angle=0, xanchor="center"):
    return dict(text=text, xref="paper", yref="paper", x=x, y=y, showarrow=False,
                xanchor=xanchor, yanchor="middle", textangle=angle,
                font=dict(family=FONT, size=size, color=color))


fig = go.Figure()
shapes = []
annotations = []

for r, lat in enumerate(lats):
    for c, rcp in enumerate(rcps):
        n = r * 3 + c + 1
        xa = "x" if n == 1 else f"x{n}"
        ya = "y" if n == 1 else f"y{n}"
        data = panels[(lat, rcp)]
        xs = years_74 if lat == "74° N" else years
        base = zero_74 if lat == "74° N" else zero

        # ribbons first, then lines (same order as the legend factor)
        for sp in species:
            if sp in data and data[sp][1] is not None:
                mean, lo, hi = data[sp]
                fig.add_trace(go.Scatter(
                    x=xs + xs[::-1], y=hi + lo[::-1], fill="toself",
                    fillcolor=fade(colors[sp]), line=dict(width=0), mode="lines",
                    hoverinfo="skip", showlegend=False, xaxis=xa, yaxis=ya))
        for sp in species:
            mean = data[sp][0] if sp in data else base
            fig.add_trace(go.Scatter(
                x=xs, y=mean, mode="lines", name=sp, showlegend=False,
                line=dict(color=colors[sp], width=7.5, dash=dashes[sp]),
                xaxis=xa, yaxis=ya))

        x0, x1 = col_px[c]
        y0, y1 = row_px[r]
        axis_common = dict(
            showgrid=False, zeroline=False, showline=True, mirror=True,
            linecolor="#333333", linewidth=4, ticks="outside", ticklen=11,
            tickwidth=4, tickcolor="#333333", automargin=False,
        )
        fig.update_layout(**{
            ("xaxis" if n == 1 else f"xaxis{n}"): dict(
                axis_common, domain=[fx(x0), fx(x1)], anchor=ya,
                range=[1954.6, 2217.2], tickvals=[2000, 2050, 2100, 2150, 2200],
                showticklabels=(r == 4), tickangle=-45,
                ticklabelshift=14, ticklabelstandoff=4,
                tickfont=dict(family=FONT, size=67, color="#4D4D4D")),
            ("yaxis" if n == 1 else f"yaxis{n}"): dict(
                axis_common, domain=[fy(y1), fy(y0)], anchor=xa,
                range=[-24.2, 508.7], tickvals=[0, 100, 200, 300, 400, 500],
                showticklabels=(c == 0), ticklabelstandoff=-8,
                tickfont=dict(family=FONT, size=71, color="#4D4D4D")),
        })

# facet strips
for c, rcp in enumerate(rcps):
    x0, x1 = col_px[c]
    shapes.append(dict(type="rect", xref="paper", yref="paper",
                       x0=fx(x0), x1=fx(x1), y0=fy(97), y1=fy(3),
                       fillcolor="#D9D9D9", line=dict(color="#333333", width=3)))
    annotations.append(label(rcp, fx((x0 + x1) / 2), fy(52), 68, "#1A1A1A"))
for r, lat in enumerate(lats):
    y0, y1 = row_px[r]
    shapes.append(dict(type="rect", xref="paper", yref="paper",
                       x0=fx(2418), x1=fx(2505), y0=fy(y1), y1=fy(y0),
                       fillcolor="#D9D9D9", line=dict(color="#333333", width=3)))
    annotations.append(label(lat, fx(2461), fy((y0 + y1) / 2), 58, "#1A1A1A", angle=90))

# axis titles
annotations.append(label("Year", fx(1316), fy(2236), 83))
annotations.append(label("Biomass (Mg/ha)", fx(38), fy(1058), 83, angle=-90))

# legend, laid out like ggplot's 2-row key
legend_pos = {
    "abiesibi": (309, 2376), "betupend": (706, 2376), "piceobov": (1106, 2376),
    "pinusylv": (1493, 2376), "sphagnum": (1897, 2376),
    "betunana": (309, 2448), "larisibi": (706, 2448), "pinusibi": (1106, 2448),
    "poputrem": (1493, 2448),
}
for sp in species:
    lx, ly = legend_pos[sp]
    shapes.append(dict(type="rect", xref="paper", yref="paper",
                       x0=fx(lx), x1=fx(lx + 112), y0=fy(ly + 33), y1=fy(ly - 33),
                       fillcolor=fade(colors[sp]), line=dict(width=0)))
    shapes.append(dict(type="line", xref="paper", yref="paper",
                       x0=fx(lx + 8), x1=fx(lx + 104), y0=fy(ly), y1=fy(ly),
                       line=dict(color=colors[sp], width=7.5, dash=dashes[sp])))
    annotations.append(label(sp, fx(lx + 114), fy(ly + 4), 67, xanchor="left"))

fig.update_layout(
    width=2494, height=2473,
    margin=dict(l=0, r=0, t=0, b=0),
    paper_bgcolor="white", plot_bgcolor="white",
    showlegend=False, shapes=shapes, annotations=annotations,
)

fig.write_html("out.html")
